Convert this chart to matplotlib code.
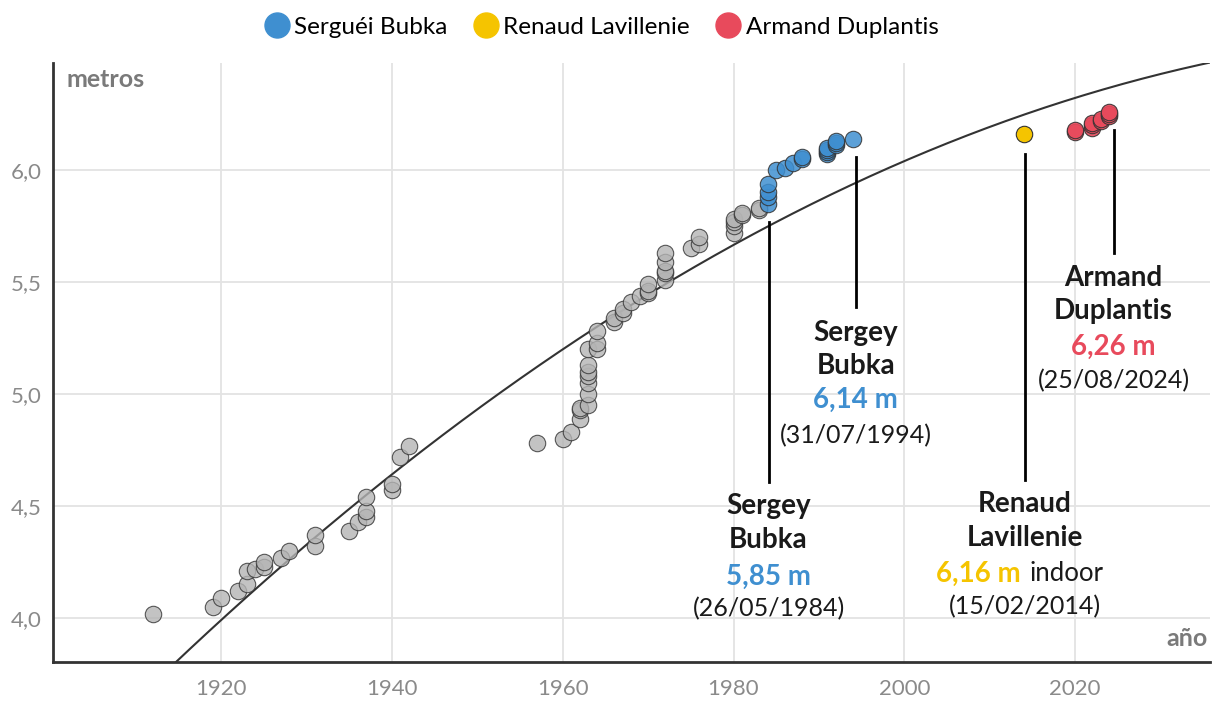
import numpy as np
import matplotlib.pyplot as plt
from matplotlib.lines import Line2D

plt.rcParams['font.family'] = ['Lato', 'DejaVu Sans']

# world records, pole vault (year, metres)
other_years = [1912, 1919, 1920, 1922, 1923, 1923, 1924, 1925, 1925, 1927, 1928,
               1931, 1931, 1935, 1936, 1937, 1937, 1937, 1940, 1940, 1941, 1942,
               1957, 1960, 1961, 1962, 1962, 1962,
               1963, 1963, 1963, 1963, 1963, 1963, 1963,
               1964, 1964, 1964, 1966, 1966, 1967, 1967, 1968, 1969,
               1970, 1970, 1970, 1972, 1972, 1972, 1972, 1972,
               1975, 1976, 1976, 1980, 1980, 1980, 1980, 1981, 1981, 1983, 1983]
other_heights = [4.02, 4.05, 4.09, 4.12, 4.15, 4.21, 4.22, 4.23, 4.25, 4.27, 4.30,
                 4.32, 4.37, 4.39, 4.43, 4.45, 4.48, 4.54, 4.57, 4.60, 4.72, 4.77,
                 4.78, 4.80, 4.83, 4.89, 4.93, 4.94,
                 4.95, 5.00, 5.05, 5.08, 5.10, 5.13, 5.20,
                 5.20, 5.23, 5.28, 5.32, 5.34, 5.36, 5.38, 5.41, 5.44,
                 5.45, 5.46, 5.49, 5.51, 5.54, 5.55, 5.59, 5.63,
                 5.65, 5.67, 5.70, 5.72, 5.75, 5.77, 5.78, 5.80, 5.81, 5.82, 5.83]

bubka_years = [1984, 1984, 1984, 1984, 1985, 1986, 1987, 1988, 1988,
               1991, 1991, 1991, 1991, 1992, 1992, 1992, 1994]
bubka_heights = [5.85, 5.88, 5.90, 5.94, 6.00, 6.01, 6.03, 6.05, 6.06,
                 6.07, 6.08, 6.09, 6.10, 6.11, 6.12, 6.13, 6.14]

lavillenie_years = [2014]
lavillenie_heights = [6.16]

duplantis_years = [2020, 2020, 2022, 2022, 2022, 2023, 2023, 2024, 2024, 2024]
duplantis_heights = [6.17, 6.18, 6.19, 6.20, 6.21, 6.22, 6.23, 6.24, 6.25, 6.26]

# quadratic trend (centered on 1980)
trend_coef = [-0.000115, 0.02101, 5.6658]

GRAY = '#b4b4b4'
BLUE = '#3f8fd0'
YELLOW = '#f5c400'
RED = '#e84a5c'
TXT = '#1a1a1a'
TICK = '#8a8a8a'

fig = plt.figure(figsize=(12.2, 7.2), dpi=100)
ax = fig.add_axes([0.0434, 0.0806, 0.9484, 0.8319])

xs = np.linspace(1900, 2036, 300)
ys = np.polyval(trend_coef, xs - 1980)
ax.plot(xs, ys, color='#333333', lw=1.5, zorder=2)

kw = dict(s=140, edgecolors='#333333', linewidths=0.8, zorder=3)
ax.scatter(other_years, other_heights, color=GRAY, alpha=0.8, **kw)
ax.scatter(bubka_years, bubka_heights, color=BLUE, alpha=0.85, **kw)
ax.scatter(lavillenie_years, lavillenie_heights, color=YELLOW, **kw)
ax.scatter(duplantis_years, duplantis_heights, color=RED, alpha=0.9, **kw)

ax.set_xlim(1900.3, 2035.8)
ax.set_ylim(3.804, 6.478)
ax.set_xticks([1920, 1940, 1960, 1980, 2000, 2020])
ax.set_yticks([4.0, 4.5, 5.0, 5.5, 6.0])
ax.set_yticklabels(['4,0', '4,5', '5,0', '5,5', '6,0'])
ax.tick_params(length=0, labelsize=16, colors=TICK)
ax.tick_params(axis='x', pad=12)
ax.tick_params(axis='y', pad=8)
ax.grid(True, color='#e3e3e3', lw=1.3)
ax.set_axisbelow(True)
for s in ['top', 'right']:
    ax.spines[s].set_visible(False)
for s in ['left', 'bottom']:
    ax.spines[s].set_color('#333333')
    ax.spines[s].set_linewidth(2)

ax.text(0.012, 0.972, 'metros', transform=ax.transAxes, fontsize=18,
        fontweight='bold', color='#7a7a7a', va='center')
ax.text(0.998, 0.04, 'año', transform=ax.transAxes, fontsize=18,
        fontweight='bold', color='#7a7a7a', ha='right', va='center')


def annotate(x, y0, y1, names, mark, color, date, ys_txt, suffix=''):
    ax.plot([x, x], [y0, y1], color='black', lw=2, zorder=2)
    for name, yy in zip(names, ys_txt[:2]):
        ax.text(x, yy, name, ha='center', va='center', fontsize=20,
                fontweight='bold', color=TXT)
    if suffix:
        ax.text(x - 0.5, ys_txt[2], mark, ha='right', va='center', fontsize=20,
                fontweight='bold', color=color)
        ax.text(x + 0.6, ys_txt[2], suffix, ha='left', va='center', fontsize=18.5,
                color=TXT)
    else:
        ax.text(x, ys_txt[2], mark, ha='center', va='center', fontsize=20,
                fontweight='bold', color=color)
    ax.text(x, ys_txt[3], date, ha='center', va='center', fontsize=18, color=TXT)


annotate(1984.1, 5.768, 4.606, ['Sergey', 'Bubka'], '5,85 m', BLUE,
         '(26/05/1984)', [4.499, 4.347, 4.186, 4.043])
annotate(1994.3, 6.058, 5.387, ['Sergey', 'Bubka'], '6,14 m', BLUE,
         '(31/07/1994)', [5.271, 5.124, 4.972, 4.816])
annotate(2014.1, 6.071, 4.615, ['Renaud', 'Lavillenie'], '6,16 m', YELLOW,
         '(15/02/2014)', [4.507, 4.356, 4.199, 4.052], suffix='indoor')
annotate(2024.5, 6.178, 5.629, ['Armand', 'Duplantis'], '6,26 m', RED,
         '(25/08/2024)', [5.516, 5.369, 5.212, 5.061])

handles = [Line2D([], [], marker='o', ls='', markersize=18, color=c)
           for c in [BLUE, YELLOW, RED]]
fig.legend(handles, ['Serguéi Bubka', 'Renaud Lavillenie', 'Armand Duplantis'],
           loc='center', bbox_to_anchor=(0.492, 0.962), ncol=3, frameon=False,
           fontsize=17.5, handletextpad=0.1, columnspacing=1.0, handlelength=1.2)

fig.savefig('out.png', dpi=100)
